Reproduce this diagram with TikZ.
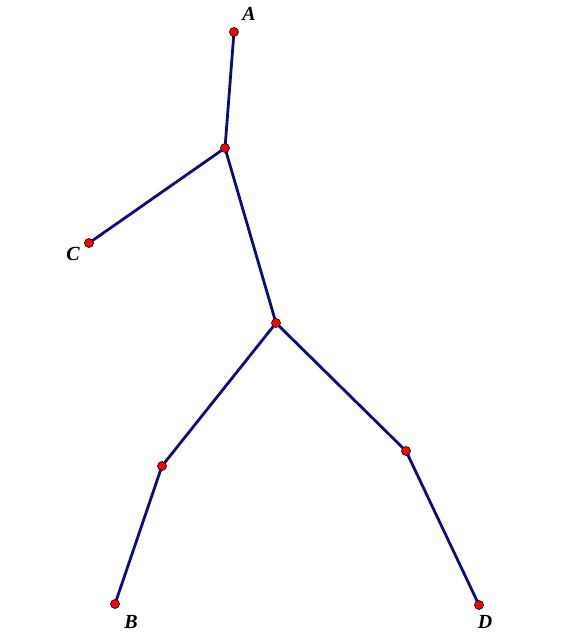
\documentclass[tikz,border=0pt]{standalone}
\usepackage{fontspec}
\setmainfont{Liberation Serif}
\tikzset{
  pt/.style={circle,draw=black,line width=.6pt,fill=red,inner sep=0pt,minimum size=9pt},
  seg/.style={draw=navy,line width=2.8pt},
  lbl/.style={font=\fontsize{20}{24}\selectfont\bfseries\itshape}
}
\definecolor{navy}{RGB}{10,10,130}
\begin{document}
\begin{tikzpicture}[x=1pt,y=-1pt]
\useasboundingbox (0,0) rectangle (576,641);
\foreach \n/\x/\y in {A/234/32,J/225/148,C/89/243,K/276/323,E/162/466,B/115/604,F/406/451,D/479/605}
  \coordinate (\n) at (\x,\y);
\foreach \a/\b in {A/J,J/C,J/K,K/E,E/B,K/F,F/D}
  \draw[seg] (\a) -- (\b);
\foreach \n in {A,J,C,K,E,B,F,D}
  \node[pt] at (\n) {};
\node[lbl] at (249,14) {A};
\node[lbl] at (73,254) {C};
\node[lbl] at (131,622) {B};
\node[lbl] at (485,622) {D};
\end{tikzpicture}
\end{document}
